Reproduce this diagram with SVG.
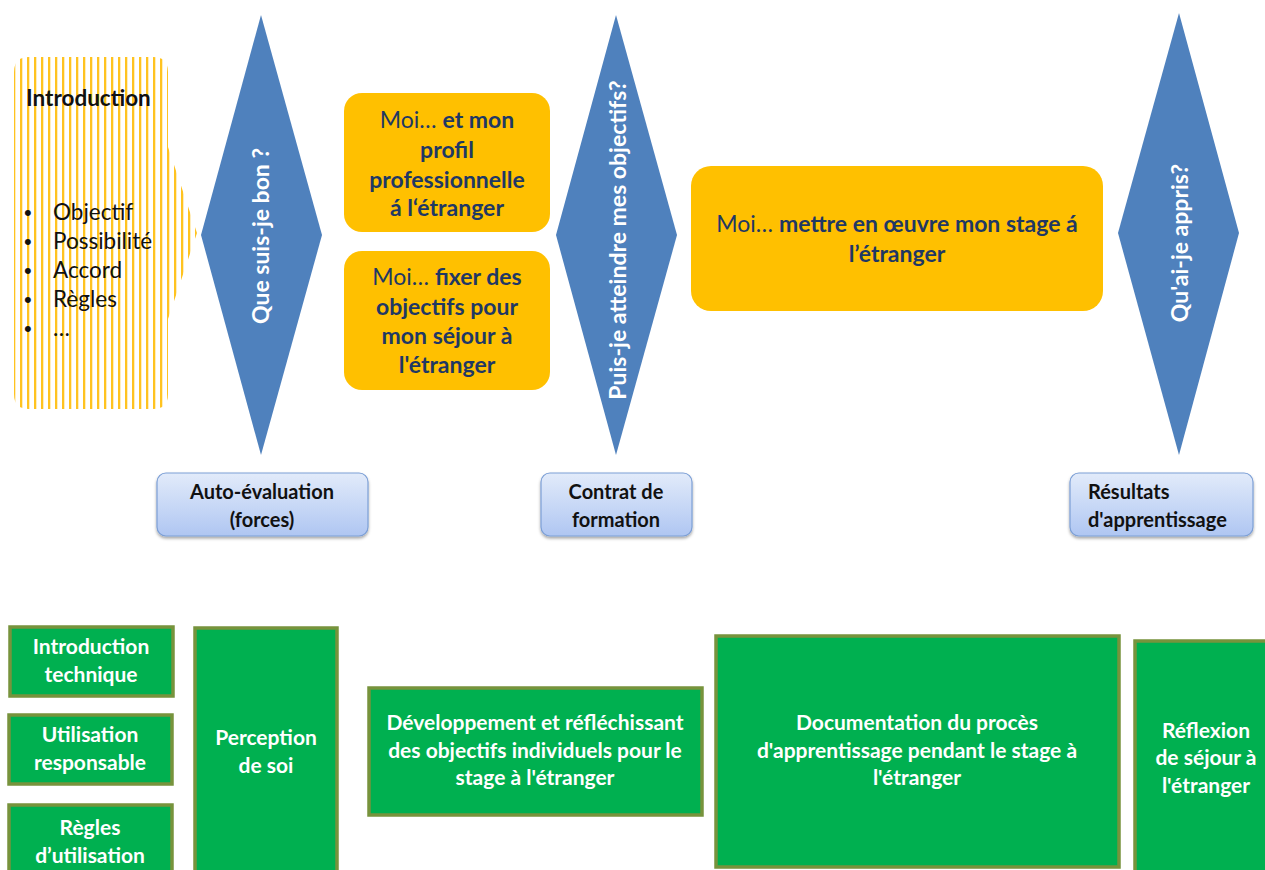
<svg xmlns="http://www.w3.org/2000/svg" width="1265" height="870" viewBox="0 0 1265 870">
<defs>
  <pattern id="stripes" patternUnits="userSpaceOnUse" x="13" y="0" width="7" height="10">
    <rect x="0" y="0" width="2.3" height="10" fill="#FFC320"/>
  </pattern>
  <clipPath id="introClip">
    <path d="M14,72 Q14,57 29,57 L153,57 Q168,57 168,72 L168,147 L197,233 L168,319 L168,394 Q168,409 153,409 L29,409 Q14,409 14,394 Z"/>
  </clipPath>
  <linearGradient id="blueGrad" x1="0" y1="0" x2="0" y2="1">
    <stop offset="0" stop-color="#E2EBFA"/>
    <stop offset="1" stop-color="#AFC6F2"/>
  </linearGradient>
  <filter id="shadow" x="-10%" y="-10%" width="120%" height="130%">
    <feDropShadow dx="0" dy="2" stdDeviation="1.5" flood-color="#000" flood-opacity="0.35"/>
  </filter>
</defs>
<style>
  .diamond { fill: #4F81BD; }
  .dtext { font-family: Lato, "Open Sans", sans-serif; font-weight: bold; font-size: 23px; fill: #FFFFFF; text-anchor: middle; }
  .orange { fill: #FFC000; }
  .otext { font-family: Lato, "Open Sans", sans-serif; font-size: 23px; fill: #1F3864; text-anchor: middle; }
  .otext .b { font-weight: bold; }
  .bluebox { fill: url(#blueGrad); stroke: #7C9FD6; stroke-width: 1.2; filter: url(#shadow); }
  .btext { font-family: Lato, "Open Sans", sans-serif; font-weight: bold; font-size: 20px; fill: #111111; text-anchor: middle; }
  .green { fill: #00B050; stroke: #77933C; stroke-width: 3.5; }
  .gtext { font-family: Lato, "Open Sans", sans-serif; font-weight: bold; font-size: 21px; fill: #FFFFFF; text-anchor: middle; }
  .itext { font-family: Lato, "Open Sans", sans-serif; font-size: 22.5px; fill: #111111; }
  .bullet { font-family: "Liberation Sans", sans-serif; font-size: 22px; fill: #111111; }
</style>

<g id="connectors"></g>

<g id="intro">
  <rect x="0" y="50" width="210" height="370" fill="url(#stripes)" clip-path="url(#introClip)"/>
  <text class="itext" x="26" y="106" font-weight="bold">Introduction</text>
  <text class="bullet" x="24" y="220">•</text><text class="itext" x="53" y="220">Objectif</text>
  <text class="bullet" x="24" y="249">•</text><text class="itext" x="53" y="249">Possibilité</text>
  <text class="bullet" x="24" y="278">•</text><text class="itext" x="53" y="278">Accord</text>
  <text class="bullet" x="24" y="307">•</text><text class="itext" x="53" y="307">Règles</text>
  <text class="bullet" x="24" y="336">•</text><text class="itext" x="53" y="336">…</text>
</g>

<g id="diamond1">
  <polygon class="diamond" points="261,15 322,235 261,455 201,235"/>
  <text class="dtext" transform="translate(269,236) rotate(-90)">Que suis-je bon ?</text>
</g>

<g id="diamond2">
  <polygon class="diamond" points="616,15 677,235 616,455 556,235"/>
  <text class="dtext" transform="translate(626,240) rotate(-90)">Puis-je atteindre mes objectifs?</text>
</g>

<g id="diamond3">
  <polygon class="diamond" points="1179,13 1239,233 1179,455 1118,233"/>
  <text class="dtext" transform="translate(1188,243) rotate(-90)">Qu'ai-je appris?</text>
</g>

<g id="orange1">
  <rect class="orange" x="344" y="93" width="206" height="139" rx="18"/>
  <text class="otext" x="447" y="128">Moi… <tspan class="b">et mon</tspan></text>
  <text class="otext" x="447" y="158"><tspan class="b">profil</tspan></text>
  <text class="otext" x="447" y="188"><tspan class="b">professionnelle</tspan></text>
  <text class="otext" x="447" y="216"><tspan class="b">á l‘étranger</tspan></text>
</g>

<g id="orange2">
  <rect class="orange" x="344" y="251" width="206" height="139" rx="18"/>
  <text class="otext" x="447" y="285">Moi… <tspan class="b">fixer des</tspan></text>
  <text class="otext" x="447" y="315"><tspan class="b">objectifs pour</tspan></text>
  <text class="otext" x="447" y="344"><tspan class="b">mon séjour à</tspan></text>
  <text class="otext" x="447" y="373"><tspan class="b">l'étranger</tspan></text>
</g>

<g id="orange3">
  <rect class="orange" x="691" y="166" width="412" height="145" rx="20"/>
  <text class="otext" x="897" y="232">Moi… <tspan class="b">mettre en œuvre mon stage á</tspan></text>
  <text class="otext" x="897" y="262"><tspan class="b">l’étranger</tspan></text>
</g>

<g id="label1">
  <rect class="bluebox" x="157" y="473" width="211" height="63" rx="9"/>
  <text class="btext" x="262" y="499">Auto-évaluation</text>
  <text class="btext" x="262" y="527">(forces)</text>
</g>

<g id="label2">
  <rect class="bluebox" x="541" y="473" width="151" height="63" rx="9"/>
  <text class="btext" x="616" y="499">Contrat de</text>
  <text class="btext" x="616" y="527">formation</text>
</g>

<g id="label3">
  <rect class="bluebox" x="1070" y="473" width="183" height="63" rx="9"/>
  <text class="btext" x="1088" y="499" style="text-anchor:start">Résultats</text>
  <text class="btext" x="1088" y="527" style="text-anchor:start">d'apprentissage</text>
</g>

<g id="green1">
  <rect class="green" x="10" y="627" width="163" height="69"/>
  <text class="gtext" x="91" y="654">Introduction</text>
  <text class="gtext" x="91" y="682">technique</text>
</g>

<g id="green2">
  <rect class="green" x="9" y="715" width="163" height="69"/>
  <text class="gtext" x="90" y="742">Utilisation</text>
  <text class="gtext" x="90" y="770">responsable</text>
</g>

<g id="green3">
  <rect class="green" x="9" y="805" width="163" height="80"/>
  <text class="gtext" x="90" y="835">Règles</text>
  <text class="gtext" x="90" y="863">d’utilisation</text>
</g>

<g id="green4">
  <rect class="green" x="195" y="628" width="142" height="260"/>
  <text class="gtext" x="266" y="745">Perception</text>
  <text class="gtext" x="266" y="773">de soi</text>
</g>

<g id="green5">
  <rect class="green" x="369" y="688" width="333" height="127"/>
  <text class="gtext" x="535" y="730">Développement et réfléchissant</text>
  <text class="gtext" x="535" y="758">des objectifs individuels pour le</text>
  <text class="gtext" x="535" y="785">stage à l'étranger</text>
</g>

<g id="green6">
  <rect class="green" x="716" y="636" width="403" height="231"/>
  <text class="gtext" x="917" y="730">Documentation du procès</text>
  <text class="gtext" x="917" y="758">d'apprentissage pendant le stage à</text>
  <text class="gtext" x="917" y="785">l'étranger</text>
</g>

<g id="green7">
  <rect class="green" x="1135" y="641" width="145" height="250"/>
  <text class="gtext" x="1206" y="738">Réflexion</text>
  <text class="gtext" x="1206" y="765">de séjour à</text>
  <text class="gtext" x="1206" y="793">l'étranger</text>
</g>
</svg>
